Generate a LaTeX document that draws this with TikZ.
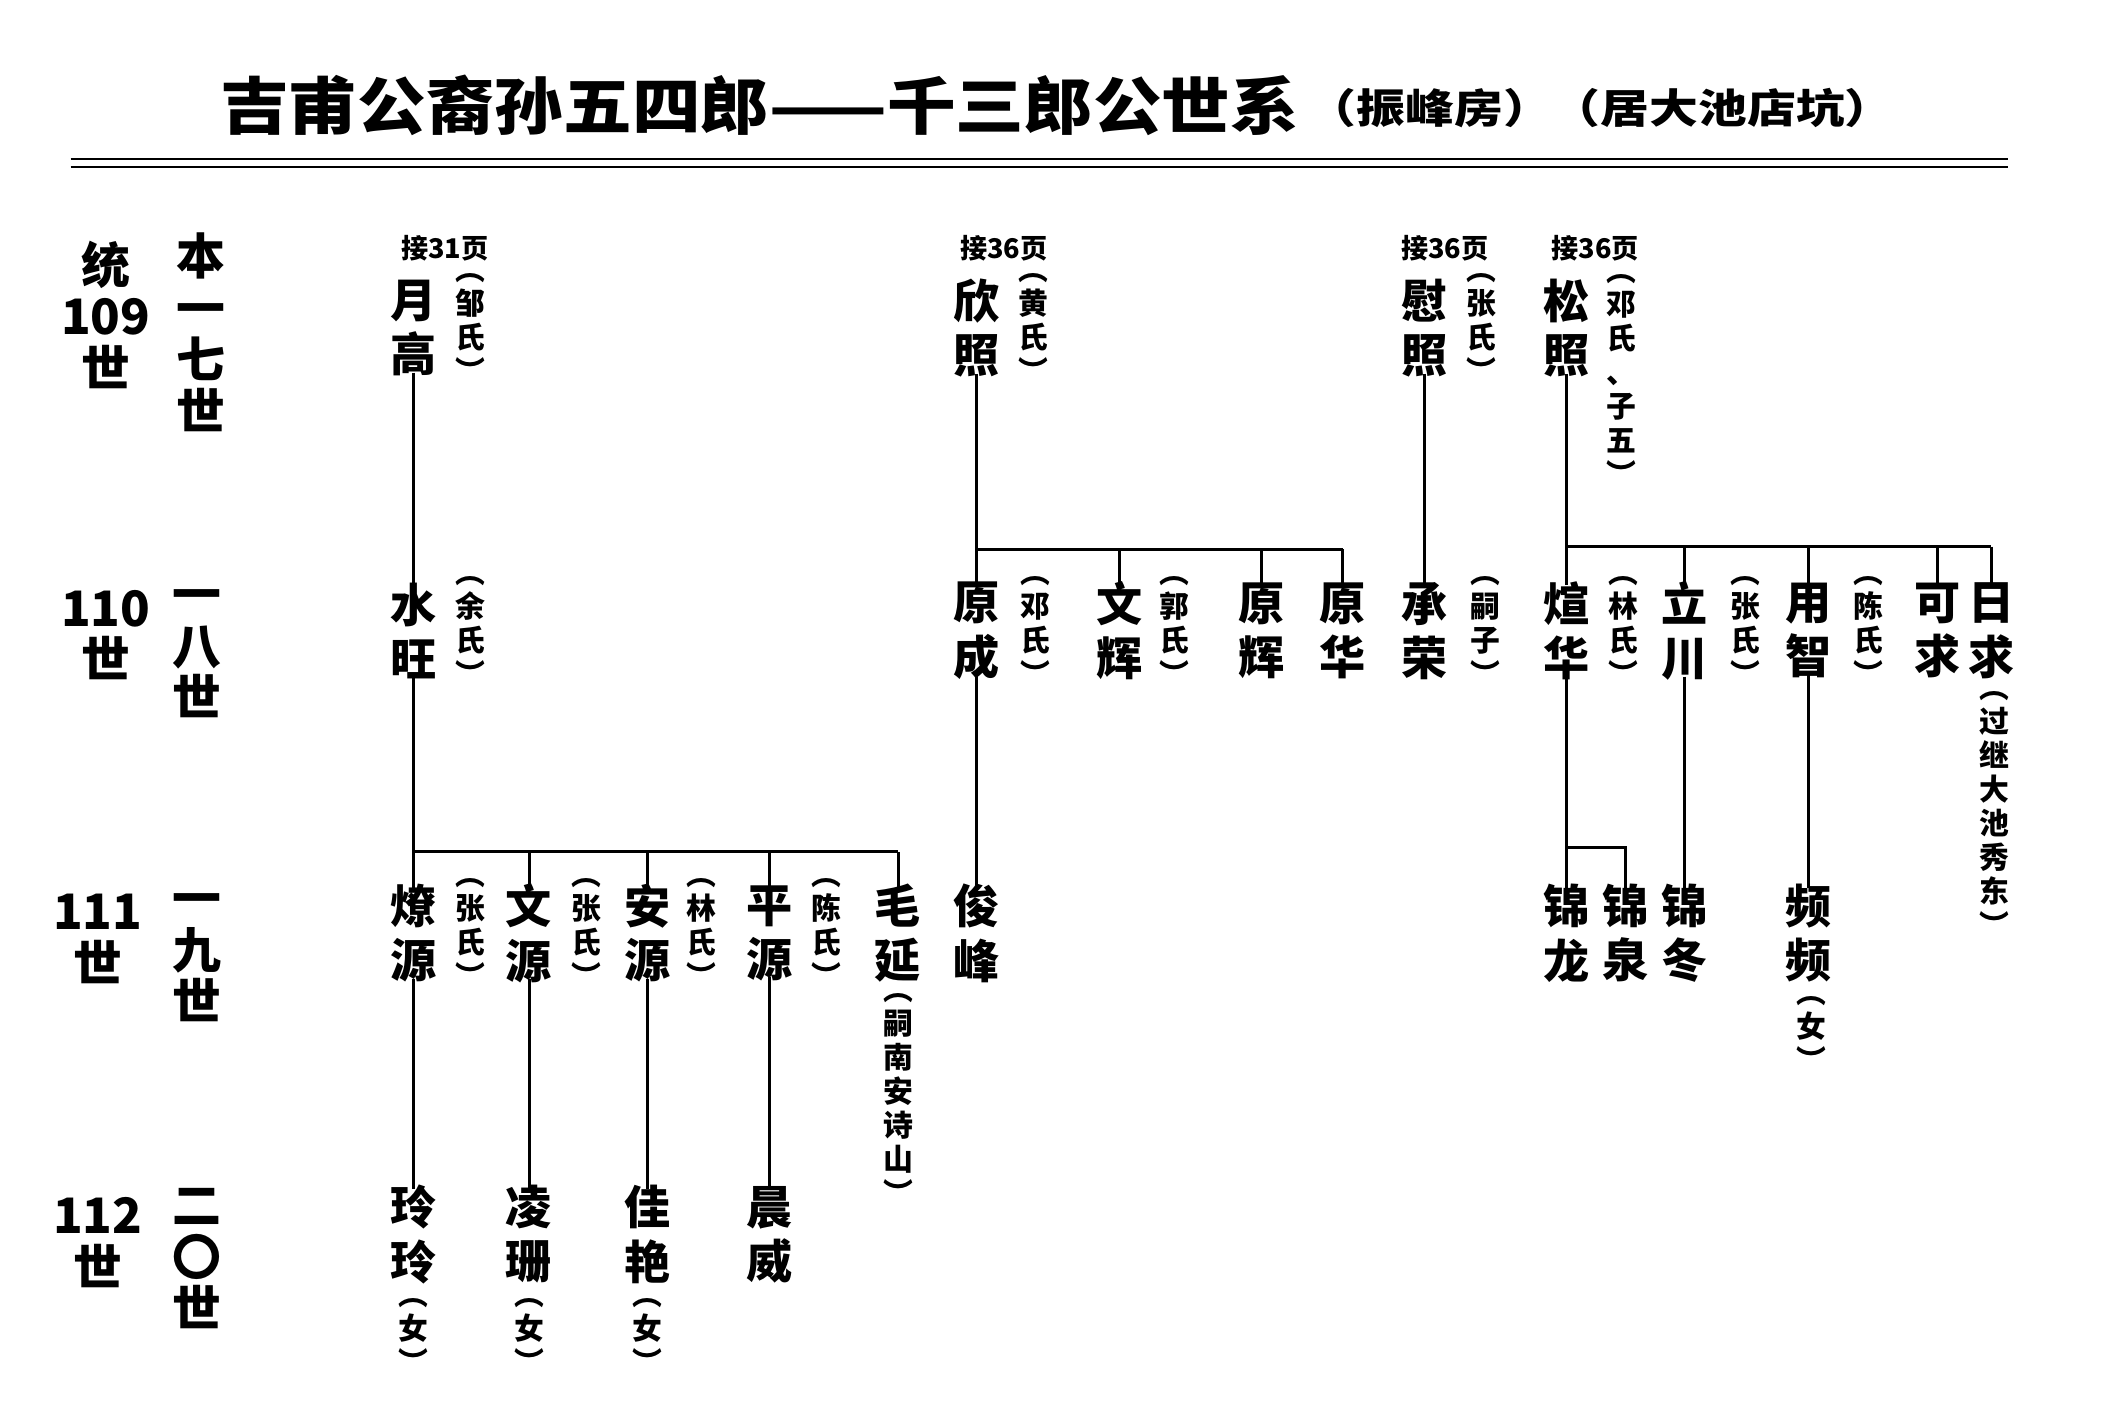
\documentclass[tikz,border=0pt]{standalone}
\usepackage{fontspec}
\setmainfont{Noto Sans CJK SC}
\begin{document}
\begin{tikzpicture}[x=1pt,y=-1pt,
 nm/.style={align=center,inner sep=0pt,font=\fontsize{34}{40}\selectfont\bfseries},
 sp/.style={align=center,inner sep=0pt,font=\fontsize{22}{25}\selectfont\bfseries},
 jie/.style={inner sep=0pt,font=\fontsize{20}{22}\selectfont\bfseries},
 gen/.style={align=center,inner sep=0pt,font=\fontsize{36}{38}\selectfont\bfseries},
 ln/.style={line width=2.2pt}]
\useasboundingbox (0,0) rectangle (1568,1045);
% title
\node[inner sep=0pt,xscale=1.1,font=\fontsize{46}{50}\selectfont\bfseries] (title) at (560,78) {吉甫公裔孙五四郎——千三郎公世系};
\node[inner sep=0pt,xscale=1.2,font=\fontsize{30}{32}\selectfont\bfseries] (sub) at (1180,80) {（振峰房）（居大池店坑）};
\draw[line width=1.6pt] (52,117) -- (1480,117);
\draw[line width=1.6pt] (52,123) -- (1480,123);
% generation labels
\node[gen] (g109) at (78,232) {统\\109\\世};
\node[gen] (b109) at (148,245) {本\\一\\七\\世};
\node[gen] (g110) at (78,468) {110\\世};
\node[gen] (b110) at (145,482) {一\\八\\世};
\node[gen] (g111) at (72,692) {111\\世};
\node[gen] (b111) at (145,706) {一\\九\\世};
\node[gen] (g112) at (72,916) {112\\世};
\node[gen] (b112) at (145,928) {二\\〇\\世};
% row 109
\node[jie] (j1) at (328,183) {接31页};
\node[jie] (j2) at (740,183) {接36页};
\node[jie] (j3) at (1065,183) {接36页};
\node[jie] (j4) at (1176,183) {接36页};
\node[nm] (yuegao) at (305,242) {月\\高};
\node[sp] (s1) at (347,242) {︵\\邹\\氏\\︶};
\node[nm] (xinzhao) at (720,242) {欣\\照};
\node[sp] (s2) at (762,242) {︵\\黄\\氏\\︶};
\node[nm] (weizhao) at (1050,242) {慰\\照};
\node[sp] (s3) at (1092,242) {︵\\张\\氏\\︶};
\node[nm] (songzhao) at (1155,242) {松\\照};
\node[sp] (s4) at (1195,280) {︵\\邓\\氏\\、\\子\\五\\︶};
% row 110
\node[nm] (shuiwang) at (305,465) {水\\旺};
\node[sp] (s5) at (347,465) {︵\\余\\氏\\︶};
\node[nm] (yuancheng) at (720,465) {原\\成};
\node[sp] (s6) at (763,465) {︵\\邓\\氏\\︶};
\node[nm] (wenhui) at (825,465) {文\\辉};
\node[sp] (s7) at (866,465) {︵\\郭\\氏\\︶};
\node[nm] (yuanhui) at (930,465) {原\\辉};
\node[nm] (yuanhua) at (990,465) {原\\华};
\node[nm] (chengrong) at (1050,465) {承\\荣};
\node[sp] (s8) at (1095,465) {︵\\嗣\\子\\︶};
\node[nm] (xuanhua) at (1155,465) {煊\\华};
\node[sp] (s9) at (1197,465) {︵\\林\\氏\\︶};
\node[nm] (lichuan) at (1242,465) {立\\川};
\node[sp] (s10) at (1287,465) {︵\\张\\氏\\︶};
\node[nm] (yongzhi) at (1333,465) {用\\智};
\node[sp] (s11) at (1377,465) {︵\\陈\\氏\\︶};
\node[nm] (keqiu) at (1428,465) {可\\求};
\node[nm] (riqiu) at (1468,465) {日\\求};
\node[sp] (s12) at (1470,600) {︵\\过\\继\\大\\池\\秀\\东\\︶};
% row 111
\node[nm] (liaoyuan) at (305,688) {燎\\源};
\node[sp] (s13) at (347,688) {︵\\张\\氏\\︶};
\node[nm] (wenyuan) at (390,688) {文\\源};
\node[sp] (s14) at (432,688) {︵\\张\\氏\\︶};
\node[nm] (anyuan) at (477,688) {安\\源};
\node[sp] (s15) at (517,688) {︵\\林\\氏\\︶};
\node[nm] (pingyuan) at (567,688) {平\\源};
\node[sp] (s16) at (609,688) {︵\\陈\\氏\\︶};
\node[nm] (maoyan) at (662,688) {毛\\延};
\node[sp] (s17) at (662,810) {︵\\嗣\\南\\安\\诗\\山\\︶};
\node[nm] (junfeng) at (720,688) {俊\\峰};
\node[nm] (jinlong) at (1155,688) {锦\\龙};
\node[nm] (jinquan) at (1198,688) {锦\\泉};
\node[nm] (jindong) at (1242,688) {锦\\冬};
\node[nm] (pinpin) at (1333,688) {频\\频};
\node[sp] (s18) at (1335,762) {︵\\女\\︶};
% row 112
\node[nm] (lingling) at (305,910) {玲\\玲};
\node[sp] (n1) at (305,985) {︵\\女\\︶};
\node[nm] (lingshan) at (390,910) {凌\\珊};
\node[sp] (n2) at (390,985) {︵\\女\\︶};
\node[nm] (jiayan) at (477,910) {佳\\艳};
\node[sp] (n3) at (477,985) {︵\\女\\︶};
\node[nm] (chenwei) at (567,910) {晨\\威};
% connectors
\draw[ln] ([yshift=3]yuegao.south) -- ([yshift=-3]shuiwang.north);
\coordinate (h1) at (305,628);
\draw[ln] ([yshift=3]shuiwang.south) -- ([yshift=-3]liaoyuan.north);
\draw[ln] (h1) -- (662,628);
\foreach \n in {wenyuan,anyuan,pingyuan,maoyan} \draw[ln] (\n.north |- h1) -- ([yshift=-3]\n.north);
\foreach \a/\b in {liaoyuan/lingling,wenyuan/lingshan,anyuan/jiayan,pingyuan/chenwei} \draw[ln] ([yshift=3]\a.south) -- ([yshift=-3]\b.north);
\coordinate (h2) at (720,405);
\draw[ln] ([yshift=3]xinzhao.south) -- ([yshift=-3]yuancheng.north);
\draw[ln] (h2) -- (990,405);
\foreach \n in {wenhui,yuanhui,yuanhua} \draw[ln] (\n.north |- h2) -- ([yshift=-3]\n.north);
\draw[ln] ([yshift=3]yuancheng.south) -- ([yshift=-3]junfeng.north);
\draw[ln] ([yshift=3]weizhao.south) -- ([yshift=-3]chengrong.north);
\coordinate (h3) at (1155,403);
\draw[ln] ([yshift=3]songzhao.south) -- ([yshift=-3]xuanhua.north);
\draw[ln] (h3) -- (1468,403);
\foreach \n in {lichuan,yongzhi,keqiu,riqiu} \draw[ln] (\n.north |- h3) -- ([yshift=-3]\n.north);
\coordinate (h4) at (1155,625);
\draw[ln] ([yshift=3]xuanhua.south) -- ([yshift=-3]jinlong.north);
\draw[ln] (h4) -- (1198,625) -- ([yshift=-3]jinquan.north);
\draw[ln] ([yshift=3]lichuan.south) -- ([yshift=-3]jindong.north);
\draw[ln] ([yshift=3]yongzhi.south) -- ([yshift=-3]pinpin.north);
\end{tikzpicture}
\end{document}
